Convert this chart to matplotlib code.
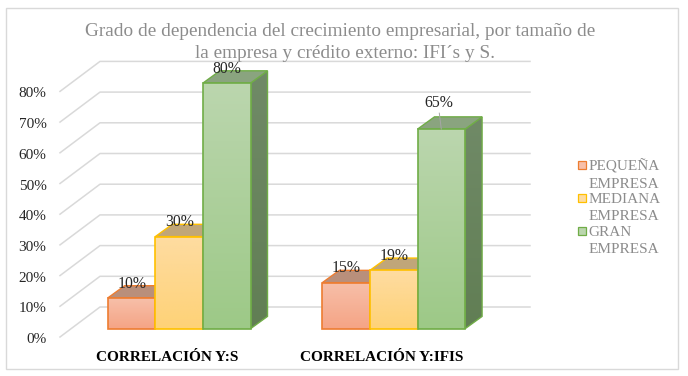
import numpy as np
import matplotlib
matplotlib.use('Agg')
from matplotlib import pyplot as plt
from matplotlib.patches import Polygon, Rectangle

plt.rcParams['font.family'] = ['Liberation Serif', 'DejaVu Serif']

# Data
groups = ['CORRELACIÓN Y:S', 'CORRELACIÓN Y:IFIS']
series = ['PEQUEÑA\nEMPRESA', 'MEDIANA\nEMPRESA', 'GRAN\nEMPRESA']
pequena = [10, 15]
mediana = [30, 19]
gran = [80, 65]
y_ticks = [0, 10, 20, 30, 40, 50, 60, 70, 80]
y_labels = ['0%', '10%', '20%', '30%', '40%', '50%', '60%', '70%', '80%']
title_1 = 'Grado de dependencia del crecimiento empresarial, por tamaño de'
title_2 = 'la empresa y crédito externo: IFI´s y S.'

W, H = 688, 376
bar_w = 47.6       # pixels per bar
px_per_pct = 3.07
x0 = 107.7         # left edge of first bar, px
y0 = 328.7         # bar baseline, px from top
group_step = 214.6
depth_x, depth_y = 17, 12.3

# top/bottom gradient colours per series
front_cols = [('#f7bfa9', '#f5a485'), ('#fedca1', '#fed277'), ('#bbd6ae', '#9dc987')]
side_cols = [('#8a6a5a', '#7d5f50'), ('#a08a5c', '#937d50'), ('#708a67', '#617e54')]
top_cols = ['#b98f7b', '#c0a679', '#8aa47f']
edge_cols = ['#ed7d31', '#ffc000', '#70ad47']

fig = plt.figure(figsize=(W / 100, H / 100), dpi=100)
ax = fig.add_axes([0, 0, 1, 1])

def px_y(pct):
    return y0 - pct * px_per_pct

def grad_poly(pts, c_top, c_bot, zorder):
    # vertical gradient clipped to a polygon
    pts = np.array(pts)
    g = np.linspace(0, 1, 64).reshape(-1, 1, 1)
    c1 = np.array(matplotlib.colors.to_rgb(c_top)).reshape(1, 1, 3)
    c2 = np.array(matplotlib.colors.to_rgb(c_bot)).reshape(1, 1, 3)
    img = c1 * (1 - g) + c2 * g
    im = ax.imshow(img, extent=[pts[:, 0].min(), pts[:, 0].max(), pts[:, 1].max(), pts[:, 1].min()],
                   aspect='auto', zorder=zorder, interpolation='bilinear')
    clip = Polygon(pts, closed=True, transform=ax.transData, fc='none', ec='none')
    ax.add_patch(clip)
    im.set_clip_path(clip)

def draw_bar(left, value, k):
    right = left + bar_w
    top = px_y(value)
    z = 5 + k
    ec = edge_cols[k]
    # side face
    side = [(right, y0), (right + depth_x, y0 - depth_y), (right + depth_x, top - depth_y), (right, top)]
    grad_poly(side, side_cols[k][0], side_cols[k][1], z)
    ax.add_patch(Polygon(side, closed=True, fc='none', ec=ec, lw=1.0, zorder=z))
    # top face
    roof = [(left, top), (right, top), (right + depth_x, top - depth_y), (left + depth_x, top - depth_y)]
    ax.add_patch(Polygon(roof, closed=True, fc=top_cols[k], ec=ec, lw=1.0, zorder=z))
    # front face
    front = [(left, y0), (right, y0), (right, top), (left, top)]
    grad_poly(front, front_cols[k][0], front_cols[k][1], z + 0.1)
    ax.add_patch(Polygon(front, closed=True, fc='none', ec=ec, lw=1.2, zorder=z + 0.1))

# gridlines on floor-side wall and back wall
for t, lab in zip(y_ticks, y_labels):
    fy = 337 - t * px_per_pct
    ax.plot([60, 100, 530], [fy, fy - 30, fy - 30], color='#d9d9d9', lw=1.1, zorder=1)
    ax.text(46.5, fy + 2.5, lab, ha='right', va='center', fontsize=11, color='#262626', zorder=2)

# bars
for g, name in enumerate(groups):
    left = x0 + g * group_step
    for k, vals in enumerate([pequena, mediana, gran]):
        draw_bar(left + k * bar_w, vals[g], k)
        lx = left + k * bar_w + bar_w / 2
        ly = px_y(vals[g]) - 14.5
        dx = 0.5
        if vals[g] == 65:
            ly = px_y(vals[g]) - 26
            dx = -2
            ax.plot([lx - 2, lx], [px_y(vals[g]) - 16, px_y(vals[g])], color='#a6a6a6', lw=0.7, zorder=20)
        ax.text(lx + dx, ly, '%d%%' % vals[g], ha='center', va='center',
                fontsize=11.3, color='#262626', zorder=21)
    ax.text(left + 1.5 * bar_w - 12, 357.5, name, ha='center', va='center', fontsize=11,
            fontweight='bold', color='black', zorder=21)

# title
ax.text(340, 31, title_1, ha='center', va='center', fontsize=13.9, color='#8c8c8c', zorder=22)
ax.text(345, 53, title_2, ha='center', va='center', fontsize=13.9, color='#8c8c8c', zorder=22)

# legend by hand so wrapped entries stay tight
leg_y = [165, 198, 231]
for k, name in enumerate(series):
    ax.add_patch(Rectangle((577.5, leg_y[k] - 4), 8, 8, fc=front_cols[k][0], ec=edge_cols[k], lw=0.9, zorder=22))
    ax.text(588.3, leg_y[k] + 10, name, ha='left', va='center', fontsize=11, color='#8c8c8c',
            linespacing=1.38, zorder=22)

# chart frame
ax.add_patch(Rectangle((5.5, 8), 672.5, 361, fc='none', ec='#d9d9d9', lw=1.0, zorder=0))

ax.set_xlim(0, W)
ax.set_ylim(H, 0)
ax.axis('off')

plt.savefig('out.png', dpi=100)
plt.close(fig)
